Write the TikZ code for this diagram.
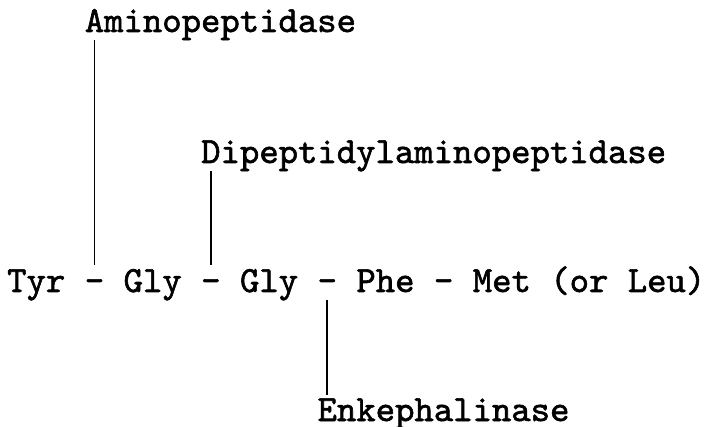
\documentclass[tikz,border=0pt]{standalone}
\usepackage{fontspec}
\newfontfamily\cour{lmmono10-regular.otf}[FakeBold=1.6]
\begin{document}
\begin{tikzpicture}[x=1pt,y=1pt,
  tok/.style={inner sep=0pt,outer sep=0pt,anchor=base west,font=\cour\fontsize{36.9pt}{40pt}\selectfont},
  cut/.style={line width=1.6pt,black}]
\useasboundingbox (0,0) rectangle (704,426);
\def\pitch{19.4}
\def\xz{7.2}
% chain
\node[tok] (tyr)  at (\xz+0*\pitch,134) {Tyr};
\node[tok] (d1)   at (\xz+4*\pitch,134) {-};
\node[tok] (gly1) at (\xz+6*\pitch,134) {Gly};
\node[tok] (d2)   at (\xz+10*\pitch,134) {-};
\node[tok] (gly2) at (\xz+12*\pitch,134) {Gly};
\node[tok] (d3)   at (\xz+16*\pitch,134) {-};
\node[tok] (phe)  at (\xz+18*\pitch,134) {Phe};
\node[tok] (d4)   at (\xz+22*\pitch,134) {-};
\node[tok] (met)  at (\xz+24*\pitch,134) {Met (or Leu)};
% enzymes
\node[tok] (ami) at (\xz+4*\pitch,394) {Aminopeptidase};
\node[tok] (dip) at (\xz+10*\pitch,263) {Dipeptidylaminopeptidase};
\node[tok] (enk) at (\xz+16*\pitch,5) {Enkephalinase};
% cleavage lines
\draw[cut] ([yshift=-8pt]d1.base |- ami.base) -- ([yshift=27pt]d1.base);
\draw[cut] ([yshift=-8pt]d2.base |- dip.base) -- ([yshift=27pt]d2.base);
\draw[cut] ([yshift=-8pt]d3.base) -- ([yshift=26pt]d3.base |- enk.base);
\end{tikzpicture}
\end{document}
